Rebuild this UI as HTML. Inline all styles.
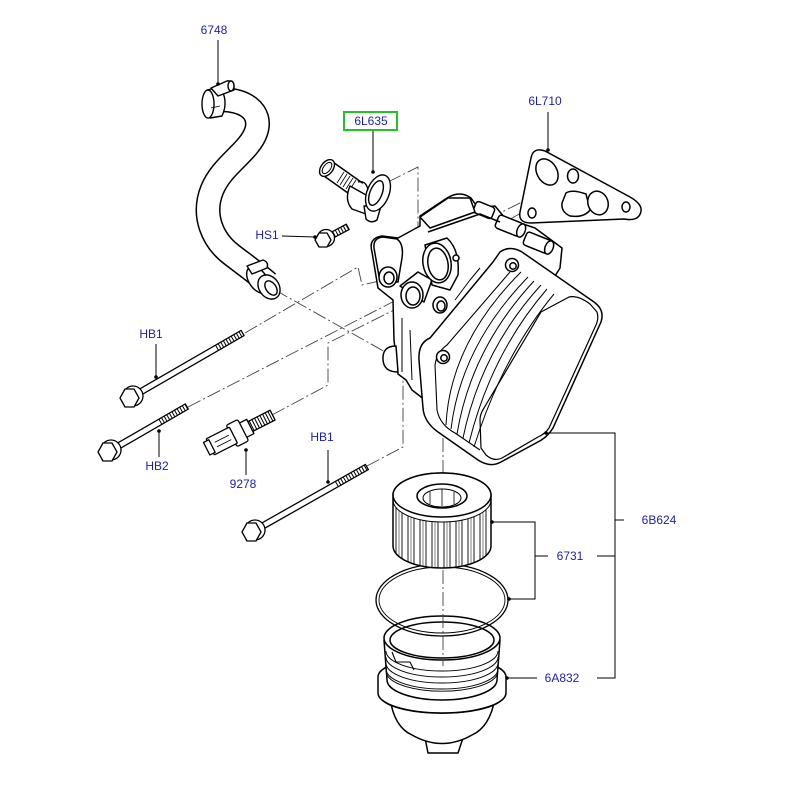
<!DOCTYPE html>
<html><head><meta charset="utf-8"><style>
html,body{margin:0;padding:0;background:#fff;}
svg{display:block;}
text{font-family:"Liberation Sans",Arial,sans-serif;font-size:12px;fill:#1e1eaa;}
</style></head><body>
<svg width="800" height="800" viewBox="0 0 800 800" xmlns="http://www.w3.org/2000/svg">
<rect width="800" height="800" fill="#fff"/>

<!-- dash-dot centre lines -->
<g fill="none" stroke="#444" stroke-width="0.9" stroke-dasharray="14 3 2 3">
 <path d="M275,290 L387,353"/>
 <path d="M245,333 L358,267 L362,285 L392,278"/>
 <path d="M188,407 L412,292"/>
 <path d="M272,415 L328,385 L328,343 L420,297"/>
 <path d="M367,466 L403,447 L403,318"/>
 <path d="M388,182 L418,167 L418,275"/>
 <path d="M540,193 L470,228"/>
 <path d="M521,213 L480,236"/>
</g>

<!-- hose 6748 -->
<g fill="none">
 <path d="M216,100 C245,98 263,112 256,132 C249,152 222,165 212,190 C202,215 212,240 232,255 C245,265 255,272 268,283" stroke="#000" stroke-width="25"/>
 <path d="M216,100 C245,98 263,112 256,132 C249,152 222,165 212,190 C202,215 212,240 232,255 C245,265 255,272 268,283" stroke="#fff" stroke-width="22"/>
</g>
<g stroke="#000" stroke-width="1.4" fill="#fff" stroke-linejoin="round">
 <!-- top clamp -->
 <path d="M207,90 L220,87 Q229,101 222,116 L210,118 Z"/>
 <ellipse cx="208" cy="104" rx="6" ry="14"/>
 <path d="M211,88 L227,81 Q234,80 234,86 L234,90 L218,96 Z"/>
 <ellipse cx="231" cy="86" rx="3" ry="5"/>
 <line x1="211" y1="108" x2="220" y2="106" stroke-width="0.8"/>
 <!-- bottom clamp -->
 <ellipse cx="258" cy="280" rx="9" ry="15" transform="rotate(-35 258 280)"/>
 <path d="M247,266 L263,260 Q269,262 267,268 L252,274 Z"/>
 <ellipse cx="269" cy="287" rx="10" ry="13" transform="rotate(-35 269 287)"/>
 <ellipse cx="271" cy="288" rx="5" ry="8" transform="rotate(-35 271 288)"/>
</g>

<!-- 6L635 connector -->
<g stroke="#000" stroke-width="1.4" fill="#fff" stroke-linejoin="round">
 <path d="M327,168 L358,190" stroke-width="18"/>
 <path d="M327,168 L358,190" stroke="#fff" stroke-width="15"/>
 <ellipse cx="327" cy="168" rx="6" ry="9.5" transform="rotate(37 327 168)"/>
 <ellipse cx="327" cy="168" rx="3.5" ry="6.5" transform="rotate(37 327 168)" stroke-width="1"/>
 <g stroke-width="0.8">
  <line x1="337" y1="183" x2="344" y2="172"/>
  <line x1="340" y1="185" x2="347" y2="174"/>
  <line x1="343" y1="187" x2="350" y2="176"/>
  <line x1="346" y1="189" x2="353" y2="178"/>
  <line x1="349" y1="191" x2="356" y2="180"/>
 </g>
 <path d="M350,186 Q344,200 352,209 L366,214 L375,200 Z"/>
 <path d="M364,206 L366,219 Q371,224 377,220 L381,206 Z"/>
 <ellipse cx="378" cy="193" rx="11" ry="19" transform="rotate(22 378 193)"/>
 <ellipse cx="376" cy="193" rx="6" ry="13" transform="rotate(22 376 193)"/>
 <path d="M358,182 Q366,180 368,190" fill="none"/>
</g>

<!-- HS1 bolt -->
<g stroke="#000" stroke-width="1.3" fill="#fff" stroke-linejoin="round">
 <g transform="translate(323,240) rotate(-28)">
  <rect x="6" y="-3" width="22" height="6"/>
  <line x1="12" y1="0" x2="28" y2="0" stroke-width="6" stroke-dasharray="1 2" fill="none"/>
 </g>
 <circle cx="326" cy="238" r="8.5"/>
 <polygon points="331,240 327,247 319,247 315,240 319,233 327,233"/>
</g>

<!-- gasket 6L710 -->
<g stroke="#000" stroke-width="1.5" fill="#fff">
 <path d="M531,158 Q533,147 545,151 L630,197 Q646,206 639,216 Q635,221 624,219 L531,223 Q518,223 520,212 Z"/>
 <ellipse cx="547" cy="172" rx="10" ry="14" transform="rotate(-30 547 172)"/>
 <ellipse cx="573" cy="176" rx="5.5" ry="7"/>
 <path d="M566,193 Q572,189 586,194 L590,210 Q584,218 570,216 Q561,212 562,203 Z"/>
 <ellipse cx="598" cy="203" rx="10" ry="12" transform="rotate(-20 598 203)"/>
 <ellipse cx="626" cy="207" rx="4" ry="5"/>
 <ellipse cx="532" cy="213" rx="4" ry="5"/>
</g>

<!-- housing -->
<g stroke="#000" stroke-width="1.5" fill="#fff" stroke-linejoin="round">
 <path d="M372,252 Q368,238 382,236 L398,238 L420,226 L420,216 L447,198 Q460,190 471,198 L478,208 L495,206 L505,218 L535,228 L562,248 L560,268 L540,300 L470,340 L425,400 L412,390 L406,380 L398,374 L394,340 L393,300 L378,288 Z"/>
 <g transform="translate(510,226) rotate(22)"><rect x="-14" y="-7" width="26" height="14" rx="3"/><ellipse cx="12" cy="0" rx="4" ry="7"/></g>
 <g transform="translate(538,243) rotate(22)"><rect x="-14" y="-7" width="26" height="14" rx="3"/><ellipse cx="12" cy="0" rx="4" ry="7"/></g>
 <g transform="translate(484,210) rotate(22)"><rect x="-10" y="-6" width="20" height="12" rx="3"/></g>
 <path d="M420,217 L448,198 L470,198 L475,212 L430,228 Z"/>
 <path d="M428,232 L480,214 L500,222" fill="none"/>
 <path d="M374,248 Q373,238 383,237 L397,239 Q404,244 402,258 L398,282 L380,282 Z"/>
 <ellipse cx="388" cy="277" rx="9" ry="10"/>
 <ellipse cx="389" cy="278" rx="5" ry="6"/>
 <path d="M400,286 L418,272 L432,280 L424,302 Z"/>
 <ellipse cx="412" cy="295" rx="11" ry="13"/>
 <ellipse cx="413" cy="296" rx="7" ry="9"/>
 <path d="M425,245 L447,238 Q460,250 458,275 L450,290 L432,285 Z"/>
 <ellipse cx="437" cy="263" rx="14" ry="20" transform="rotate(-10 437 263)"/>
 <ellipse cx="438" cy="264" rx="10" ry="16" transform="rotate(-10 438 264)"/>
 <circle cx="456" cy="258" r="3"/>
 <ellipse cx="440" cy="305" rx="7" ry="8"/>
 <ellipse cx="441" cy="306" rx="4" ry="5"/>
 <path d="M396,346 Q382,346 383,360 Q384,372 398,372 Z"/>
 <path d="M402,318 L402,372 M410,330 L412,380" fill="none" stroke-width="1"/>
 <path d="M455,300 L470,280 L480,268 M463,310 L490,278" fill="none" stroke-width="1"/>
</g>

<!-- cooler 6B624 -->
<g stroke="#000" stroke-width="1.5" fill="#fff" stroke-linejoin="round">
 <path d="M500,252 Q510,245 522,252 L594,302 Q605,310 601,322 L553,428 Q547,438 536,443 L501,462 Q490,468 478,460 L438,432 Q424,422 423,408 L419,360 Q418,343 430,338 L493,262 Z"/>
 <path d="M510,272 L447,345 Q437,352 435,365 L437,410 Q440,425 455,433 L480,450" fill="none" stroke-width="1.1"/>
 <path d="M541,312 L569,297 Q578,295 590,304 L597,312 Q599,318 596,325 L549,428 Q545,434 538,437 L502,458 Q494,462 486,455 L481,448 L480,420 Q480,414 484,408 Z" stroke-width="1.2"/>
 <g fill="none" stroke-width="1">
  <path d="M521,272 Q450,343 446,425"/>
  <path d="M528,277 Q461,346 451,429"/>
  <path d="M534,281 Q471,349 457,434"/>
  <path d="M541,285 Q481,351 463,438"/>
  <path d="M547,289 Q491,354 469,443"/>
  <path d="M554,294 Q502,357 474,447"/>
 </g>
 <circle cx="512" cy="265" r="6.5"/><circle cx="513" cy="266" r="3.2"/>
 <circle cx="443" cy="357" r="6.5"/><circle cx="444" cy="358" r="3.2"/>
</g>

<!-- bolts HB1 / HB2 / HB1 -->
<g stroke="#000" stroke-width="1.3" fill="#fff" stroke-linejoin="round">
 <g transform="translate(130,398) rotate(-30)">
  <rect x="6" y="-3" width="124" height="6"/>
  <line x1="100" y1="0" x2="130" y2="0" stroke-width="6" stroke-dasharray="1 2" fill="none"/>
 </g>
 <circle cx="133" cy="396" r="10"/>
 <polygon points="139,398 134,407 125,407 120,398 125,389 134,389"/>

 <g transform="translate(108,452) rotate(-30)">
  <rect x="6" y="-3" width="85" height="6"/>
  <line x1="60" y1="0" x2="91" y2="0" stroke-width="6" stroke-dasharray="1 2" fill="none"/>
 </g>
 <circle cx="111" cy="450" r="10"/>
 <polygon points="117,452 112,461 103,461 98,452 103,443 112,443"/>

 <g transform="translate(252,532) rotate(-29.5)">
  <rect x="6" y="-3" width="126" height="6"/>
  <line x1="97" y1="0" x2="132" y2="0" stroke-width="6" stroke-dasharray="1 2" fill="none"/>
 </g>
 <circle cx="255" cy="530" r="10"/>
 <polygon points="261,532 256,541 247,541 242,532 247,523 256,523"/>
</g>

<!-- sensor 9278 -->
<g stroke="#000" stroke-width="1.3" fill="#fff" stroke-linejoin="round">
 <g transform="translate(212,446) rotate(-27)">
  <rect x="42" y="-5.5" width="26" height="11"/>
  <line x1="44" y1="0" x2="68" y2="0" stroke-width="11" stroke-dasharray="1 2" fill="none"/>
  <rect x="34" y="-8" width="9" height="16"/>
  <rect x="22" y="-12" width="13" height="24" rx="2"/>
  <rect x="-2" y="-9" width="26" height="18" rx="1"/>
  <rect x="-6" y="-7" width="6" height="14"/>
  <line x1="4" y1="-2" x2="20" y2="-2" stroke-width="0.9"/>
  <line x1="4" y1="3" x2="20" y2="3" stroke-width="0.9"/>
 </g>
</g>

<!-- cap 6A832 -->
<g stroke="#000" stroke-width="1.5" fill="#fff" stroke-linejoin="round">
 <path d="M425,738 L428,753 L458,753 L463,738 Z"/>
 <path d="M390,698 Q394,727 412,735 Q442,752 472,735 Q490,727 495,698 Z"/>
 <path d="M378,677 A64,20 0 0 1 506,677 L506,693 A64,20 0 0 1 378,693 Z"/>
 <path d="M384,640 L387,680 A55,20 0 0 0 497,680 L500,640 Z"/>
 <g fill="none" stroke-width="0.9">
  <path d="M386,651 A56,20 0 0 0 498,651"/>
  <path d="M386,657 A56,20 0 0 0 498,657"/>
  <path d="M386,663 A56,20 0 0 0 498,663"/>
  <path d="M386,669 A56,20 0 0 0 498,669"/>
  <path d="M387,675 A56,20 0 0 0 497,675"/>
  <path d="M382,700 A62,18 0 0 0 502,700"/>
 </g>
 <ellipse cx="442" cy="638" rx="58" ry="22"/>
 <ellipse cx="442" cy="640" rx="52" ry="18" fill="none"/>
 <path d="M392,652 L396,662 L410,662 L414,670" fill="none" stroke-width="1.1"/>
</g>

<!-- filter centerline -->
<line x1="443" y1="438" x2="443" y2="666" stroke="#444" stroke-width="0.9" stroke-dasharray="14 3 2 3"/>

<!-- O-ring -->
<g fill="none" stroke="#000" stroke-width="1.3">
 <ellipse cx="442" cy="600" rx="66" ry="36"/>
 <ellipse cx="442" cy="600" rx="63" ry="33" stroke-width="0.9"/>
</g>

<!-- filter 6731 -->
<g stroke="#000" stroke-width="1.5" fill="#fff">
 <path d="M393,495 A49,22 0 0 1 491,495 L491,546 A49,22 0 0 1 393,546 Z"/>
 <ellipse cx="442" cy="495" rx="49" ry="22"/>
 <path d="M393,500 A49,22 0 0 0 491,500" fill="none" stroke-width="1"/>
 <ellipse cx="442" cy="496" rx="25" ry="12"/>
 <ellipse cx="442" cy="498" rx="19" ry="9" stroke-width="1"/>
 <g stroke-width="0.9">
  <line x1="396" y1="508" x2="396" y2="554"/>
  <line x1="402" y1="513" x2="402" y2="559"/>
  <line x1="408" y1="516" x2="408" y2="562"/>
  <line x1="414" y1="518" x2="414" y2="564"/>
  <line x1="420" y1="520" x2="420" y2="566"/>
  <line x1="426" y1="521" x2="426" y2="567"/>
  <line x1="432" y1="521" x2="432" y2="567"/>
  <line x1="438" y1="522" x2="438" y2="568"/>
  <line x1="444" y1="522" x2="444" y2="568"/>
  <line x1="450" y1="522" x2="450" y2="568"/>
  <line x1="456" y1="521" x2="456" y2="567"/>
  <line x1="462" y1="520" x2="462" y2="566"/>
  <line x1="468" y1="519" x2="468" y2="565"/>
  <line x1="474" y1="517" x2="474" y2="563"/>
  <line x1="480" y1="514" x2="480" y2="560"/>
  <line x1="486" y1="510" x2="486" y2="556"/>
  <line x1="399" y1="511" x2="399" y2="557" stroke-width="0.5"/>
  <line x1="411" y1="517" x2="411" y2="563" stroke-width="0.5"/>
  <line x1="423" y1="520" x2="423" y2="566" stroke-width="0.5"/>
  <line x1="435" y1="522" x2="435" y2="568" stroke-width="0.5"/>
  <line x1="447" y1="522" x2="447" y2="568" stroke-width="0.5"/>
  <line x1="459" y1="521" x2="459" y2="567" stroke-width="0.5"/>
  <line x1="471" y1="518" x2="471" y2="564" stroke-width="0.5"/>
  <line x1="483" y1="512" x2="483" y2="558" stroke-width="0.5"/>
 </g>
 <g fill="none" stroke-width="0.8">
  <line x1="430" y1="492" x2="430" y2="504"/>
  <line x1="442" y1="489" x2="442" y2="506"/>
  <line x1="454" y1="492" x2="454" y2="504"/>
 </g>
</g>

<!-- leaders -->
<g stroke="#000" stroke-width="1" fill="none">
 <line x1="218" y1="40" x2="218" y2="84"/>
 <line x1="373" y1="131" x2="373" y2="172"/>
 <line x1="548" y1="112" x2="548" y2="150"/>
 <line x1="282" y1="236" x2="315" y2="237"/>
 <line x1="156" y1="344" x2="156" y2="377"/>
 <line x1="159" y1="431" x2="159" y2="457"/>
 <line x1="246" y1="450" x2="246" y2="475"/>
 <line x1="328" y1="450" x2="328" y2="482"/>
 <path d="M546,433 L615,433 L615,678 L597,678"/>
 <line x1="615" y1="520" x2="624" y2="520"/>
 <line x1="597" y1="556" x2="615" y2="556"/>
 <path d="M492,522 L535,522 L535,599 L509,599"/>
 <line x1="535" y1="556" x2="548" y2="556"/>
 <line x1="507" y1="678" x2="537" y2="678"/>
</g>
<g fill="#000">
 <circle cx="218" cy="84" r="1.8"/>
 <circle cx="373" cy="172" r="1.8"/>
 <circle cx="548" cy="150" r="1.8"/>
 <circle cx="315" cy="237" r="1.8"/>
 <circle cx="156" cy="377" r="1.8"/>
 <circle cx="159" cy="431" r="1.8"/>
 <circle cx="246" cy="450" r="1.8"/>
 <circle cx="328" cy="482" r="1.8"/>
 <circle cx="546" cy="433" r="1.8"/>
 <circle cx="492" cy="522" r="1.8"/>
 <circle cx="509" cy="599" r="1.8"/>
 <circle cx="507" cy="678" r="1.8"/>
</g>

<!-- labels -->
<rect x="344" y="112" width="53" height="18" fill="none" stroke="#22c322" stroke-width="2"/>
<g text-anchor="middle">
 <text x="214" y="34">6748</text>
 <text x="371" y="125">6L635</text>
 <text x="545" y="105">6L710</text>
 <text x="267" y="239">HS1</text>
 <text x="151" y="338">HB1</text>
 <text x="157" y="470">HB2</text>
 <text x="243" y="488">9278</text>
 <text x="322" y="441">HB1</text>
 <text x="659" y="524">6B624</text>
 <text x="570" y="560">6731</text>
 <text x="562" y="682">6A832</text>
</g>
</svg>
</body></html>
